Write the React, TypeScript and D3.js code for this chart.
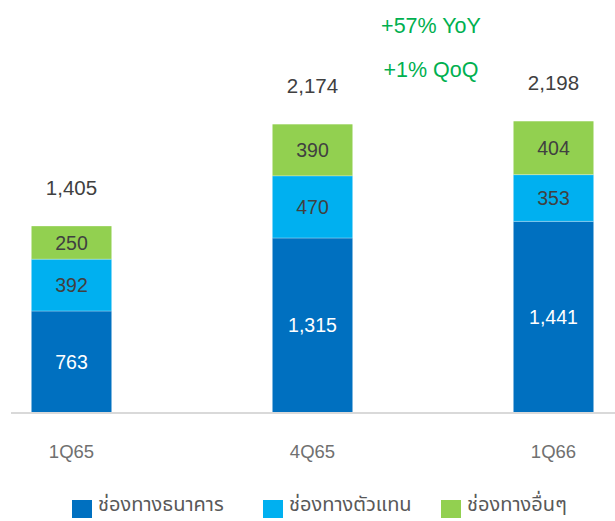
import React from "react";
import * as d3 from "d3";

const categories = ["1Q65", "4Q65", "1Q66"];
const bankValues = [763, 1315, 1441];
const agentValues = [392, 470, 353];
const otherValues = [250, 390, 404];
const totals = [1405, 2174, 2198];
const seriesNames = ["ช่องทางธนาคาร", "ช่องทางตัวแทน", "ช่องทางอื่นๆ"];
const growthNotes = ["+57% YoY", "+1% QoQ"];

const colors = ["#0070C0", "#00B0F0", "#92D050"];
const textColors = ["#FFFFFF", "#404040", "#404040"];

export default function App() {
  const W = 615, H = 521;
  const x = d3.scalePoint<string>().domain(categories).range([71.5, 553.5]);
  const barW = 80;
  const y = d3.scaleLinear().domain([0, 2200]).range([412, 121]);
  const fmt = d3.format(",");

  const rows = categories.map((c, i) => ({
    cat: c,
    bank: bankValues[i],
    agent: agentValues[i],
    other: otherValues[i],
  }));
  const stack = d3.stack<any>().keys(["bank", "agent", "other"]);
  const series = stack(rows);

  const font = "'Liberation Sans', Arial, Helvetica, sans-serif";
  const thaiFont = "Tahoma, 'Noto Sans Thai', 'Liberation Sans', sans-serif";

  const legendX = [72, 263, 441];

  return (
    <svg width={W} height={H} style={{ position: "absolute", left: 0, top: 0, background: "#fff" }}>
      <line x1={11} x2={615} y1={y(0) + 1} y2={y(0) + 1} stroke="#D9D9D9" strokeWidth={2} />
      {series.map((s, si) =>
        s.map((d, i) => {
          const cx = x(categories[i])!;
          const y0 = y(d[0]);
          const y1 = y(d[1]);
          return (
            <g key={`${si}-${i}`}>
              <rect x={cx - barW / 2} y={y1} width={barW} height={y0 - y1} fill={colors[si]} />
              {si > 0 && (
                <line x1={cx - barW / 2} x2={cx + barW / 2} y1={y0} y2={y0} stroke="#ffffff" strokeOpacity={0.35} strokeWidth={1} />
              )}
              <text
                x={cx}
                y={(y0 + y1) / 2 + 7}
                textAnchor="middle"
                fontFamily={font}
                fontSize={19.5}
                fill={textColors[si]}
              >
                {fmt(d[1] - d[0])}
              </text>
            </g>
          );
        })
      )}
      {categories.map((c, i) => (
        <text
          key={c}
          x={x(c)!}
          y={y(bankValues[i] + agentValues[i] + otherValues[i]) - 31}
          textAnchor="middle"
          fontFamily={font}
          fontSize={20.5}
          fill="#404040"
        >
          {fmt(totals[i])}
        </text>
      ))}
      {categories.map((c) => (
        <text key={c + "l"} x={x(c)!} y={458} textAnchor="middle" fontFamily={font} fontSize={18.5} fill="#707070">
          {c}
        </text>
      ))}
      {growthNotes.map((t, i) => (
        <text key={t} x={431} y={33 + i * 44} textAnchor="middle" fontFamily={font} fontSize={21.5} fill="#00B050">
          {t}
        </text>
      ))}
      {seriesNames.map((n, i) => (
        <g key={n}>
          <rect x={legendX[i]} y={500} width={20} height={18} fill={colors[i]} />
          <text x={legendX[i] + 26} y={511} fontFamily={thaiFont} fontSize={20} fill="#595959">
            {n}
          </text>
        </g>
      ))}
    </svg>
  );
}
